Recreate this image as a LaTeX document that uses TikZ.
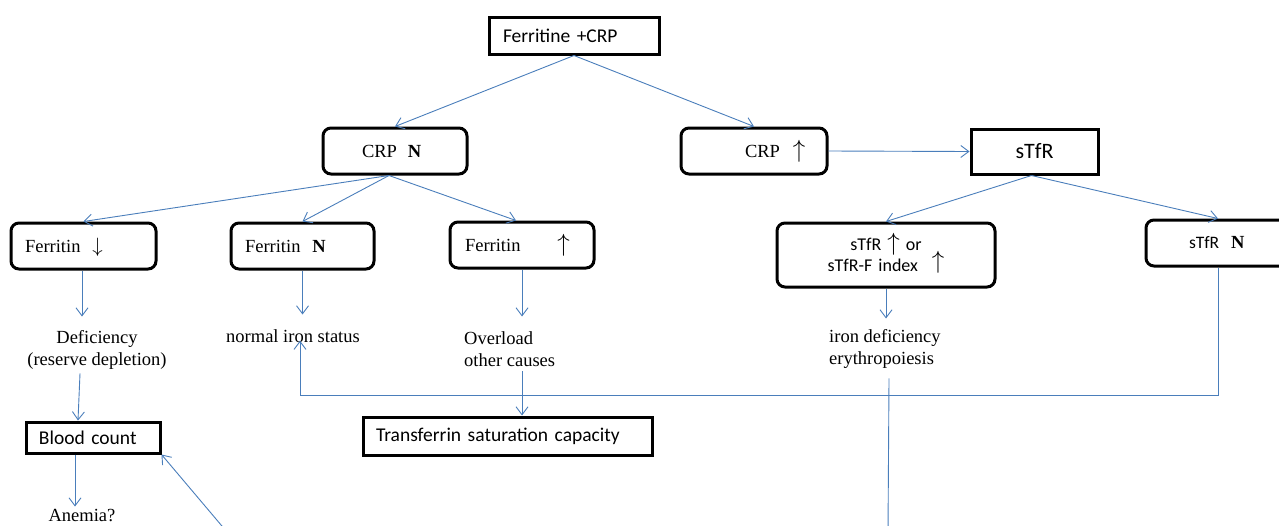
\documentclass[tikz,border=0pt]{standalone}
\usepackage{fontspec}
\usepackage{graphicx}
\setmainfont{Liberation Serif}
\newfontfamily\calfont{Carlito}
\usetikzlibrary{arrows.meta,calc}
\definecolor{lineblue}{RGB}{74,126,187}
\newcommand{\uparr}[1]{\smash{{\fontsize{#1}{#1}\selectfont$\uparrow$}}}
\newcommand{\dnarr}[1]{\smash{{\fontsize{#1}{#1}\selectfont$\downarrow$}}}
\begin{document}
\begin{tikzpicture}[x=1pt,y=-1pt,
  conn/.style={draw=lineblue, line width=0.9pt},
  arr/.style={conn, -{Straight Barb[length=8pt,width=12pt,line width=0.9pt]}},
  sq/.style={draw=black, line width=3pt, inner xsep=0pt, inner ysep=0pt, align=left,
             font=\calfont\fontsize{19.5}{22}\selectfont},
  rd/.style={sq, rounded corners=8pt},
  serifbox/.style={font=\fontsize{18.5}{21.5}\selectfont},
  lbl/.style={inner sep=0pt, font=\fontsize{18.5}{21.5}\selectfont}
]
\useasboundingbox (0,0) rectangle (1279,525);

% boxes
\node[sq, text width=170pt, minimum height=37pt] (top) at (574,35.5) {\hspace*{14pt}Ferritine +CRP};
\node[rd, serifbox, text width=144pt, minimum height=46pt] (crpN) at (395,151) {\hspace*{39pt}CRP\hspace{11pt}\textbf{N}};
\node[rd, serifbox, text width=146pt, minimum height=46pt] (crpU) at (754,151) {\hspace*{64pt}CRP\hspace{13pt}\uparr{27}};
\node[sq, text width=127pt, minimum height=45pt, align=center, font=\calfont\fontsize{22}{26}\selectfont] (stfr) at (1034.5,151.5) {sTfR};

\node[rd, serifbox, text width=145pt, minimum height=46pt] (ferD) at (83.5,246) {\hspace*{14pt}Ferritin\hspace{12pt}\dnarr{22}};
\node[rd, serifbox, text width=143pt, minimum height=46pt] (ferN) at (302.5,246) {\hspace*{14pt}Ferritin\hspace{12pt}\textbf{N}};
\node[rd, serifbox, text width=144pt, minimum height=46pt] (ferU) at (522,245) {\hspace*{15pt}Ferritin\hspace{37pt}\uparr{27}};

\node[rd, text width=218pt, minimum height=64pt, align=center, font=\calfont\fontsize{18}{21}\selectfont] (stfrU) at (886,255)
  {sTfR\hspace{6pt}\uparr{25}\hspace{6pt}or\\sTfR-F index\hspace{14pt}\raisebox{3pt}{\uparr{23}}};
\node[rd, text width=144pt, minimum height=46pt, font=\calfont\fontsize{17.5}{21}\selectfont] (stfrN) at (1218,243)
  {\hspace*{43pt}sTfR\hspace{12pt}{\rmfamily\bfseries\fontsize{18.5}{21}\selectfont N}};

\node[sq, text width=134pt, minimum height=31pt] (blood) at (93,437.5) {\hspace*{13pt}Blood count};
\node[sq, text width=289pt, minimum height=38pt] (trans) at (507.5,436) {\hspace*{13pt}Transferrin saturation capacity};

% plain labels
\node[lbl, align=center] (def) at (97,350) {Deficiency\\(reserve depletion)};
\node[lbl] (normal) at (293,336) {normal iron status};
\node[lbl, align=left, anchor=west] (over) at (464,349) {Overload\\other causes};
\node[lbl, align=left, anchor=west] (irondef) at (829,349) {iron deficiency\\erythropoiesis};
\node[lbl] (anemia) at (82,515) {Anemia?};

% connectors
\draw[arr] (top.south) -- (crpN.north);
\draw[arr] (top.south) -- (crpU.north);
\draw[arr] (crpU.east) -- (stfr.west);
\draw[arr] ([xshift=-6pt]crpN.south) -- (ferD.north);
\draw[arr] ([xshift=-6pt]crpN.south) -- (ferN.north);
\draw[arr] ([xshift=-6pt]crpN.south) -- ([xshift=-6pt]ferU.north);
\draw[arr] ([xshift=-3pt]stfr.south) -- (stfrU.north);
\draw[arr] ([xshift=-3pt]stfr.south) -- (stfrN.north);

\draw[arr] ([xshift=-1.5pt]ferD.south) -- ++(0,46);
\draw[arr] ([xshift=-17pt,yshift=-4pt]def.south) -- ([xshift=-15pt]blood.north);
\draw[arr] ([xshift=-18pt]blood.south) -- ([xshift=-7pt,yshift=2pt]anemia.north);
\coordinate (blEnd) at (227,532);
\draw[arr] (blEnd) -- (blood.south east);

\draw[arr] (ferN.south) -- ++(0,44);
\draw[arr] (ferU.south) -- ++(0,47);
\draw[arr] ([yshift=-5pt]over.south -| ferU.south) -- (trans.north -| ferU.south);

\draw[arr] (stfrU.south) -- ++(0,30);
\coordinate (idEnd) at (888,532);
\draw[conn] ($(irondef.south -| stfrU.south)+(3,10)$) -- (idEnd);

\coordinate (j) at (300,395);
\draw[arr] (stfrN.south) |- (j) -- ([yshift=2pt]j |- normal.south);
\end{tikzpicture}
\end{document}
